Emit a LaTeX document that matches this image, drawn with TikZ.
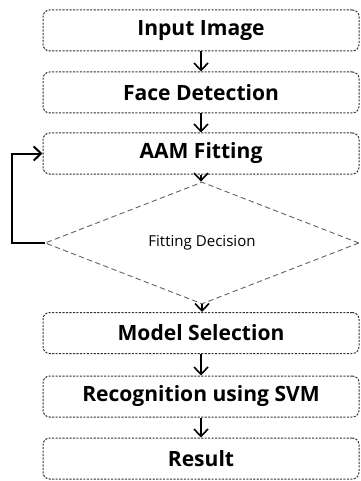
\documentclass[tikz,border=0pt]{standalone}
\usepackage{fontspec}
\setmainfont{Open Sans}
\usetikzlibrary{shapes.geometric,arrows.meta}
\begin{document}
\begin{tikzpicture}[x=0.75pt,y=-0.75pt,
  stepbox/.style={draw=black!80, dash pattern=on 1.6pt off 1pt, line width=0.75pt,
    rounded corners=5pt, minimum width=316*0.75pt, minimum height=41*0.75pt,
    inner sep=0pt, font=\fontsize{15.8}{18}\selectfont\bfseries},
  decbox/.style={draw=black!60, dash pattern=on 4pt off 2.5pt, line width=0.7pt, shape=diamond,
    minimum width=314*0.75pt, minimum height=96*0.75pt, inner sep=0pt,
    font=\fontsize{11.3}{13}\selectfont},
  arr/.style={-{Straight Barb[length=5.5pt,width=10.5pt]}, line width=1.2pt}]
\useasboundingbox (0,0) rectangle (360,481);
\node[stepbox] (in) at (201,30.5) {Input Image};
\node[stepbox] (fd) at (201,92.5) {Face Detection};
\node[stepbox] (aam) at (201,153.5) {AAM Fitting};
\node[decbox] (dec) at (202,243) {Fitting Decision};
\node[stepbox] (ms) at (201,333) {Model Selection};
\node[stepbox] (rec) at (201,396.5) {Recognition using SVM};
\node[stepbox] (res) at (201,458.5) {Result};
\draw[arr] (in) -- (fd);
\draw[arr] (fd) -- (aam);
\draw[arr] (aam.south) -- (aam.south |- dec.north);
\draw[arr] (dec.south) -- (dec.south |- ms.north);
\draw[arr] (ms) -- (rec);
\draw[arr] (rec) -- (res);
\draw[arr, line width=1.5pt] (dec.west) -- ++(-33,0) |- (aam.west);
\end{tikzpicture}
\end{document}
